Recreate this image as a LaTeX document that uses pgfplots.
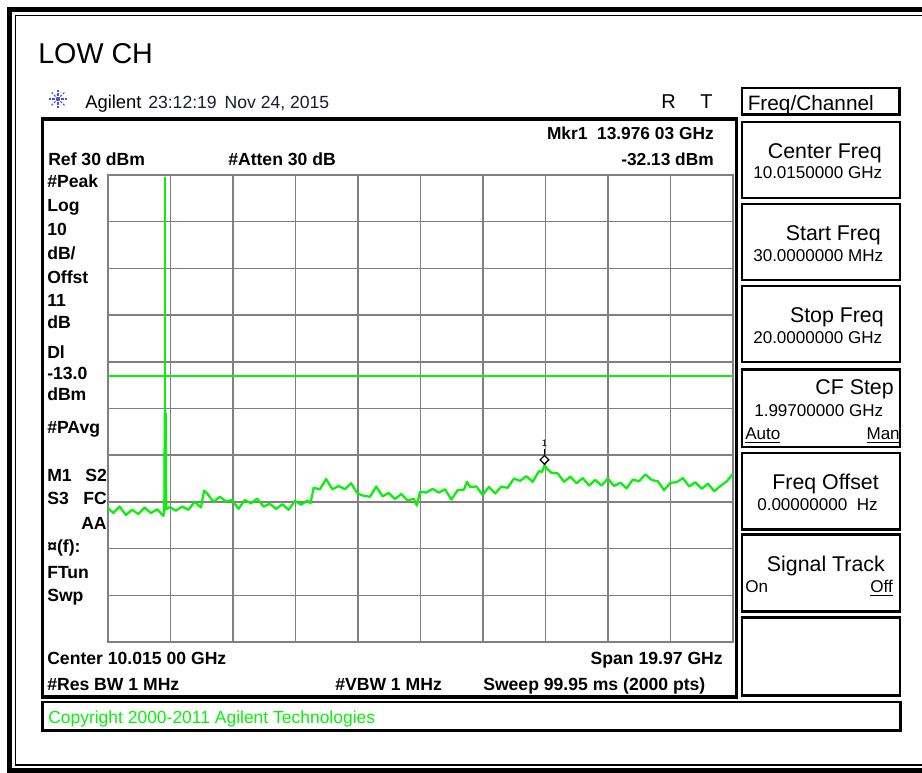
\documentclass[border=0pt]{standalone}
\usepackage{pgfplots}
\pgfplotsset{compat=1.18}
\usepackage{fontspec}
\setmainfont{Liberation Sans}
\definecolor{trace}{RGB}{10,240,10}
\definecolor{gridgray}{RGB}{128,128,128}
\definecolor{icon}{RGB}{70,80,235}
\definecolor{hdr}{RGB}{25,25,50}
\newcommand{\lab}{\fontsize{13.2pt}{14pt}\selectfont\bfseries}
\newcommand{\skt}{\fontsize{16pt}{18pt}\selectfont}
\newcommand{\skv}{\fontsize{12.8pt}{14pt}\selectfont}
\pgfplotstableread{
f y
0.03 -41.3
0.2 -42.4
0.4 -41.0
0.6 -42.8
0.8 -41.7
1.0 -42.6
1.2 -41.2
1.4 -42.4
1.6 -41.6
1.8 -43.0
1.83 -41.5
1.845 -21.0
1.875 -21.0
1.89 -41.6
2.0 -41.1
2.2 -41.9
2.4 -41.0
2.6 -41.7
2.8 -40.0
3.0 -41.2
3.1 -37.6
3.2 -38.2
3.4 -40.0
3.6 -38.9
3.8 -39.9
4.0 -39.6
4.2 -41.5
4.4 -39.6
4.6 -40.3
4.8 -39.3
5.0 -41.0
5.2 -40.4
5.4 -41.5
5.6 -40.5
5.8 -41.7
6.0 -39.8
6.2 -40.6
6.4 -39.7
6.5 -40.3
6.6 -37.0
6.8 -37.3
7.0 -35.1
7.2 -37.3
7.4 -36.6
7.6 -37.3
7.8 -36.0
8.0 -38.2
8.2 -38.7
8.4 -38.9
8.6 -36.7
8.8 -38.8
9.0 -38.1
9.2 -39.4
9.4 -38.3
9.6 -39.7
9.8 -39.3
9.9 -40.8
10.0 -37.8
10.2 -38.0
10.4 -37.2
10.6 -38.0
10.8 -37.3
11.0 -39.5
11.2 -37.5
11.4 -37.4
11.5 -35.7
11.6 -36.8
11.8 -36.7
12.0 -38.5
12.2 -36.8
12.4 -38.2
12.6 -36.7
12.8 -37.0
13.0 -35.0
13.2 -35.5
13.4 -34.5
13.6 -35.7
13.8 -33.4
13.9 -33.6
13.976 -32.13
14.05 -32.8
14.2 -33.8
14.4 -33.9
14.6 -35.7
14.8 -34.6
15.0 -36.0
15.2 -34.9
15.4 -36.5
15.6 -35.3
15.8 -36.5
16.0 -35.0
16.2 -36.6
16.4 -35.9
16.6 -37.1
16.8 -35.2
17.0 -35.6
17.2 -34.1
17.4 -35.3
17.6 -35.6
17.8 -37.5
18.0 -35.9
18.2 -35.8
18.4 -34.9
18.6 -36.7
18.8 -35.8
19.0 -37.2
19.2 -36.1
19.4 -37.7
19.6 -36.6
19.8 -35.6
20.0 -34.0
}\tracedata
\begin{document}
\begin{tikzpicture}
\path[use as bounding box] (0,0) rectangle (691.5pt,579.75pt);
\begin{scope}[shift={(0,579.75pt)}, x=0.75pt, y=-0.75pt]
 \clip (0,0) rectangle (922,773);
 % outer frame
 \draw[line width=3.9pt] (9.7,9.7) rectangle (950,770.3);
 \draw[line width=1.1pt] (15.7,15.7) rectangle (945,765);
 % title
 \node[anchor=base west, inner sep=0] at (38,63.5) {\fontsize{21.5pt}{24pt}\selectfont LOW CH};
 % agilent icon
 \foreach \a in {0,45,...,315} {
   \draw[icon, line width=0.8pt, dash pattern=on 1.6pt off 1pt] (58,99) -- ++(\a:9.5);
 }
 \node[anchor=base west, inner sep=0] at (85,108.5) {\fontsize{13.8pt}{15pt}\selectfont Agilent};
 \node[anchor=base west, inner sep=0, text=hdr] at (148,108.5) {\fontsize{13.2pt}{15pt}\selectfont 23:12:19\, Nov 24, 2015};
 \node[anchor=base west, inner sep=0] at (661,109) {\fontsize{15pt}{16pt}\selectfont R};
 \node[anchor=base west, inner sep=0] at (700,109) {\fontsize{15pt}{16pt}\selectfont T};
 % screen box
 \draw[line width=2.3pt] (42.5,119) rectangle (736.5,697);
 % top labels
 \node[anchor=base east, inner sep=0] at (714,140) {\fontsize{13pt}{14pt}\selectfont\bfseries Mkr1\ \ 13.976 03 GHz};
 \node[anchor=base east, inner sep=0] at (714,166) {\fontsize{13pt}{14pt}\selectfont\bfseries -32.13 dBm};
 \node[anchor=base west, inner sep=0] at (48,166) {\lab Ref 30 dBm};
 \node[anchor=base west, inner sep=0] at (228,166) {\lab \#Atten 30 dB};
 % left column
 \node[anchor=base west, inner sep=0] at (47,187.5) {\lab \#Peak};
 \node[anchor=base west, inner sep=0] at (47,211.5) {\lab Log};
 \node[anchor=base west, inner sep=0] at (47,236) {\lab 10};
 \node[anchor=base west, inner sep=0] at (47,260) {\lab dB/};
 \node[anchor=base west, inner sep=0] at (47,284) {\lab Offst};
 \node[anchor=base west, inner sep=0] at (47,306.5) {\lab 11};
 \node[anchor=base west, inner sep=0] at (47,328.5) {\lab dB};
 \node[anchor=base west, inner sep=0] at (47,358.5) {\lab Dl};
 \node[anchor=base west, inner sep=0] at (47,379.5) {\lab -13.0};
 \node[anchor=base west, inner sep=0] at (47,401) {\lab dBm};
 \node[anchor=base west, inner sep=0] at (47,433.5) {\lab \#PAvg};
 \node[anchor=base west, inner sep=0] at (47,481.5) {\lab M1};
 \node[anchor=base west, inner sep=0] at (85,481.5) {\lab S2};
 \node[anchor=base west, inner sep=0] at (47,505) {\lab S3};
 \node[anchor=base west, inner sep=0] at (83,505) {\lab FC};
 \node[anchor=base west, inner sep=0] at (81,530) {\lab AA};
 \node[anchor=base west, inner sep=0] at (47,553) {\lab ¤(f):};
 \node[anchor=base west, inner sep=0] at (47,578.5) {\lab FTun};
 \node[anchor=base west, inner sep=0] at (47,601.5) {\lab Swp};
 % bottom labels
 \node[anchor=base west, inner sep=0] at (47,665) {\lab Center 10.015 00 GHz};
 \node[anchor=base east, inner sep=0] at (723,665) {\lab Span 19.97 GHz};
 \node[anchor=base west, inner sep=0] at (47,690.5) {\lab \#Res BW 1 MHz};
 \node[anchor=base west, inner sep=0] at (335,690.5) {\lab \#VBW 1 MHz};
 \node[anchor=base west, inner sep=0] at (483,690.5) {\lab Sweep 99.95 ms (2000 pts)};
 % copyright box
 \draw[line width=2.1pt] (42.5,702) rectangle (900.5,730.5);
 \node[anchor=base west, inner sep=0, text=trace] at (48,723.5) {\fontsize{13.1pt}{14pt}\selectfont Copyright 2000-2011 Agilent Technologies};
 % softkey panel
 \draw[line width=2.1pt] (742,88) rectangle (899.5,114.5);
 \node[anchor=base west, inner sep=0] at (747.5,110.7) {\fontsize{15.6pt}{17pt}\selectfont Freq/Channel};
 \draw[line width=2.1pt] (742,122) rectangle (900,198);
 \draw[line width=2.1pt] (742,204) rectangle (900,280);
 \draw[line width=2.1pt] (742,286) rectangle (900,362);
 \draw[line width=2.1pt] (742,369.7) rectangle (900,447);
 \draw[line width=2.1pt] (742,453) rectangle (900,529.7);
 \draw[line width=2.1pt] (742,534.7) rectangle (900,611.3);
 \draw[line width=2.1pt] (742,617.3) rectangle (900,695.5);
 \node[anchor=base east, inner sep=0] at (882,158.5) {\skt Center Freq};
 \node[anchor=base west, inner sep=0] at (753,179) {\skv 10.0150000 GHz};
 \node[anchor=base east, inner sep=0] at (881,240.7) {\skt Start Freq};
 \node[anchor=base west, inner sep=0] at (753,261.7) {\skv 30.0000000 MHz};
 \node[anchor=base east, inner sep=0] at (884,323) {\skt Stop Freq};
 \node[anchor=base west, inner sep=0] at (753,344) {\skv 20.0000000 GHz};
 \node[anchor=base east, inner sep=0] at (894,395) {\skt CF Step};
 \node[anchor=base west, inner sep=0] at (754,417) {\skv 1.99700000 GHz};
 \node[anchor=base west, inner sep=0] at (745,440) {\skv \underline{Auto}};
 \node[anchor=base east, inner sep=0] at (900,440) {\skv \underline{Man}};
 \node[anchor=base east, inner sep=0] at (879,490) {\skt Freq Offset};
 \node[anchor=base west, inner sep=0] at (757,510.7) {\skv 0.00000000\ \ Hz};
 \node[anchor=base east, inner sep=0] at (885,571.7) {\skt Signal Track};
 \node[anchor=base west, inner sep=0] at (745,593) {\skv On};
 \node[anchor=base east, inner sep=0] at (893,593) {\skv \underline{Off}};
\end{scope}
\begin{axis}[
  at={(81pt,98.25pt)}, anchor=south west,
  width=468.75pt, height=350.25pt, scale only axis,
  xmin=0.03, xmax=20, ymin=-70, ymax=30,
  xtick={0.03,2.027,4.024,6.021,8.018,10.015,12.012,14.009,16.006,18.003,20.0},
  ytick={-70,-60,-50,-40,-30,-20,-10,0,10,20,30},
  xticklabels={}, yticklabels={}, major tick length=0pt,
  grid=major, major grid style={gridgray, line width=1.1pt},
  axis line style={gridgray, line width=1.6pt},
]
\addplot[trace, line width=1.2pt] coordinates {(0.03,-13) (20,-13)};
\addplot[trace, line width=1.7pt, line join=round, mark=none] table[x=f, y=y] {\tracedata};
\addplot[trace, line width=1.3pt] coordinates {(1.86,-21) (1.86,29.6)};
\addplot[black, line width=0.8pt] coordinates {(13.976,-28.7) (13.976,-30.2)};
\addplot[only marks, mark=square*, mark size=2.3pt, mark options={rotate=45, fill=white, draw=black, line width=1pt}] coordinates {(13.976,-31.0)};
\node[inner sep=0] at (axis cs:13.976,-27.4) {\fontsize{7pt}{7pt}\selectfont 1};
\end{axis}
\end{tikzpicture}
\end{document}
